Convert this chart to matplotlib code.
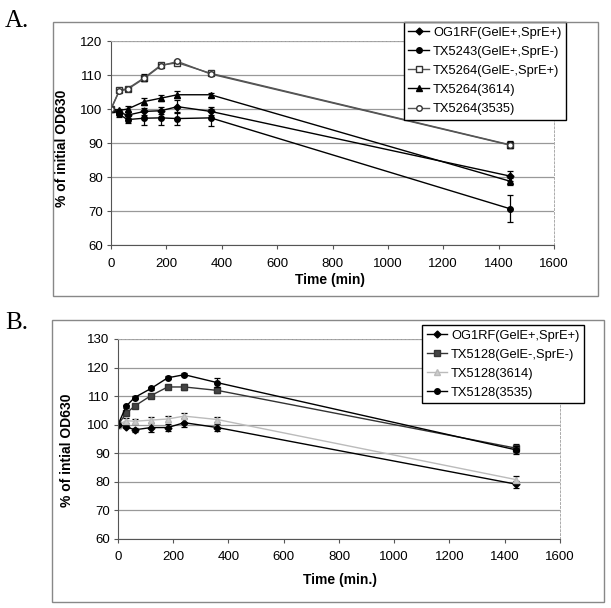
import matplotlib.pyplot as plt
from matplotlib.patches import Rectangle

# tiempos de muestreo (min)
tiempo = [0, 30, 60, 120, 180, 240, 360, 1440]

# Panel A
nombres_a = ['OG1RF(GelE+,SprE+)', 'TX5243(GelE+,SprE-)', 'TX5264(GelE-,SprE+)',
             'TX5264(3614)', 'TX5264(3535)']
valores_a = [
    [100, 99.0, 98.2, 99.3, 99.5, 100.7, 99.3, 80.3],
    [100, 98.4, 96.9, 97.3, 97.4, 97.2, 97.4, 70.7],
    [100, 105.5, 106.0, 109.2, 112.9, 113.6, 110.5, 89.5],
    [100, 99.6, 100.0, 102.2, 103.2, 104.2, 104.2, 78.8],
    [100, 105.3, 105.8, 109.0, 112.7, 114.0, 110.3, 89.4],
]
errores_a = [
    [0.3, 0.8, 0.8, 1.0, 1.0, 2.0, 1.2, 1.5],
    [0.3, 0.8, 1.0, 2.0, 2.0, 2.0, 2.5, 4.0],
    [0.3, 0.5, 0.6, 1.0, 0.6, 0.5, 0.5, 1.0],
    [0.3, 0.5, 0.8, 1.0, 0.8, 1.0, 0.6, 1.0],
    [0.3, 0.4, 0.5, 0.8, 0.5, 0.5, 0.4, 1.0],
]

# Panel B
nombres_b = ['OG1RF(GelE+,SprE+)', 'TX5128(GelE-,SprE-)', 'TX5128(3614)', 'TX5128(3535)']
valores_b = [
    [100, 99.3, 98.2, 99.0, 99.0, 100.7, 99.0, 79.2],
    [100, 104.0, 106.5, 110.2, 113.2, 113.2, 112.0, 91.8],
    [100, 101.4, 101.2, 101.6, 102.0, 103.0, 101.8, 80.8],
    [100, 106.5, 109.5, 112.7, 116.4, 117.5, 114.7, 91.2],
]
errores_b = [
    [0.3, 0.5, 0.6, 1.5, 1.2, 1.5, 1.2, 1.2],
    [0.3, 0.5, 0.6, 0.6, 0.8, 1.0, 1.0, 1.5],
    [0.3, 0.8, 0.8, 1.0, 1.0, 1.0, 1.0, 1.3],
    [0.3, 0.5, 0.5, 0.5, 0.5, 0.6, 1.5, 1.5],
]

estilos_a = [
    dict(marker='D', color='black', mfc='black', ms=3.5),
    dict(marker='o', color='black', mfc='black', ms=4),
    dict(marker='s', color='#555555', mfc='white', mec='#333333', ms=4),
    dict(marker='^', color='black', mfc='black', ms=5),
    dict(marker='o', color='#555555', mfc='white', mec='#333333', ms=4),
]
estilos_b = [
    dict(marker='D', color='black', mfc='black', ms=3.5),
    dict(marker='s', color='#333333', mfc='#444444', ms=4),
    dict(marker='^', color='#bbbbbb', mfc='#cccccc', ms=4),
    dict(marker='o', color='black', mfc='black', ms=4),
]

plt.rcParams['font.family'] = ['Liberation Sans', 'DejaVu Sans']

fig = plt.figure(figsize=(6.11, 6.08), dpi=100)

# marcos exteriores de cada grafico
fig.patches.append(Rectangle((0.0867, 0.5132), 0.892, 0.4507, transform=fig.transFigure,
                             fill=False, edgecolor='#888888', linewidth=1.0))
fig.patches.append(Rectangle((0.0851, 0.0099), 0.9034, 0.4638, transform=fig.transFigure,
                             fill=False, edgecolor='#888888', linewidth=1.0))


def dibujar(ax, nombres, valores, errores, estilos, ymin, ymax, ylabel, xlabel):
    for nombre, v, e, st in zip(nombres, valores, errores, estilos):
        ax.errorbar(tiempo, v, yerr=e, fmt='none', capsize=2.5,
                    elinewidth=0.9, capthick=0.9, ecolor='black')
        ax.plot(tiempo, v, label=nombre, linewidth=1.0, **st)
    ax.set_xlim(0, 1600)
    ax.set_ylim(ymin, ymax)
    ax.set_xticks(range(0, 1601, 200))
    ax.set_yticks(range(ymin, ymax + 1, 10))
    ax.yaxis.grid(True, color='#999999', linewidth=0.9)
    ax.set_axisbelow(True)
    for lado in ['top', 'right']:
        ax.spines[lado].set_color('#aaaaaa')
        ax.spines[lado].set_linestyle((0, (2, 2)))
        ax.spines[lado].set_linewidth(0.7)
    for lado in ['left', 'bottom']:
        ax.spines[lado].set_color('#555555')
    ax.tick_params(labelsize=9.5, length=3, color='#555555')
    ax.tick_params(axis='x', pad=6)
    ax.tick_params(axis='y', pad=3)
    ax.set_ylabel(ylabel, fontsize=10, fontweight='bold')
    ax.set_xlabel(xlabel, fontsize=10, fontweight='bold')


ax_a = fig.add_axes([0.1817, 0.597, 0.725, 0.3355])
dibujar(ax_a, nombres_a, valores_a, errores_a, estilos_a, 60, 120,
        '% of initial OD630', 'Time (min)')
ax_a.yaxis.set_label_coords(-0.095, 0.475)
ax_a.xaxis.set_label_coords(0.494, -0.172)
ax_a.xaxis.label.set_va('center')
ax_a.legend(loc='upper left', bbox_to_anchor=(0.661, 0.9638), bbox_transform=fig.transFigure,
            fontsize=9.3, frameon=True, fancybox=False, edgecolor='black', framealpha=1,
            handlelength=1.6, labelspacing=0.55, borderpad=0.35, handletextpad=0.3,
            borderaxespad=0)

ax_b = fig.add_axes([0.1931, 0.1135, 0.7234, 0.329])
dibujar(ax_b, nombres_b, valores_b, errores_b, estilos_b, 60, 130,
        '% of intial OD630', 'Time (min.)')
ax_b.yaxis.set_label_coords(-0.10, 0.445)
ax_b.xaxis.set_label_coords(0.502, -0.205)
ax_b.xaxis.label.set_va('center')
ax_b.legend(loc='upper left', bbox_to_anchor=(0.6907, 0.4655), bbox_transform=fig.transFigure,
            fontsize=9.3, frameon=True, fancybox=False, edgecolor='black', framealpha=1,
            handlelength=1.6, labelspacing=0.55, borderpad=0.35, handletextpad=0.3,
            borderaxespad=0)

fig.text(0.008, 0.966, 'A.', fontsize=18, family='Liberation Serif', va='center')
fig.text(0.008, 0.469, 'B.', fontsize=18, family='Liberation Serif', va='center')

fig.savefig('out.png', dpi=100)
